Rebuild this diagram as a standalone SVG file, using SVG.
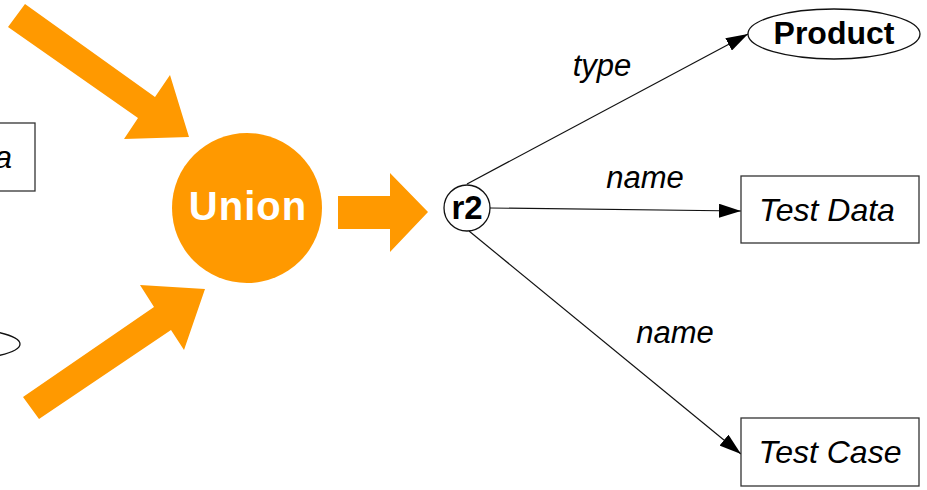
<svg xmlns="http://www.w3.org/2000/svg" width="927" height="490" viewBox="0 0 927 490">
<defs>
<style>
.big{fill:#ff9900;stroke:none}
.box{fill:#fff;stroke:#333;stroke-width:1.3}
.ell{fill:#fff;stroke:#111;stroke-width:1.3}
.edge{fill:none;stroke:#111;stroke-width:1.2;marker-end:url(#ah)}
.lbl{font-family:"Liberation Sans",Arial,sans-serif;font-style:italic;font-size:31px;fill:#000}
.nd{font-size:32px}
.bold{font-family:"Liberation Sans",Arial,sans-serif;font-weight:bold;fill:#000}
</style>
<marker id="ah" viewBox="0 0 22 14" refX="22" refY="7" markerWidth="22" markerHeight="14" markerUnits="userSpaceOnUse" orient="auto">
<path d="M0,0 L22,7 L0,14 Z" fill="#000"/>
</marker>
</defs>
<rect width="927" height="490" fill="#fff"/>
<g id="big-arrows">
<polygon class="big" points="25,4 155,97 170,75 189,137 124,139 138,118 8,27"/>
<polygon class="big" points="23,397 39,419 171,330 184,350 205,289 140,285 154,307"/>
<polygon class="big" points="338,196 390,196 390,173 428,212 390,252 390,229 338,229"/>
</g>
<g id="left-box">
<rect class="box" x="-143" y="123" width="178" height="68"/>
<text class="lbl nd" x="12" y="168" text-anchor="end">a</text>
</g>
<g id="left-ellipse">
<ellipse class="ell" cx="-60" cy="344" rx="80" ry="17"/>
</g>
<g id="union">
<circle cx="247" cy="208" r="75" fill="#ff9900"/>
<text class="bold" x="248" y="220" font-size="40" letter-spacing="1" text-anchor="middle" style="fill:#fff">Union</text>
</g>
<g id="connectors">
<line class="edge" x1="467" y1="184" x2="748" y2="34"/>
<line class="edge" x1="490" y1="208" x2="741" y2="211"/>
<line class="edge" x1="469" y1="231" x2="741" y2="454"/>
<text class="lbl" x="602" y="76" text-anchor="middle">type</text>
<text class="lbl" x="645" y="188" text-anchor="middle">name</text>
<text class="lbl" x="675" y="343" text-anchor="middle">name</text>
</g>
<g id="r2">
<circle class="ell" cx="467" cy="208" r="23"/>
<text class="bold" x="467" y="219" font-size="33" text-anchor="middle">r2</text>
</g>
<g id="product">
<ellipse class="ell" cx="834" cy="34" rx="86" ry="25"/>
<text class="bold" x="834" y="44" font-size="32" text-anchor="middle">Product</text>
</g>
<g id="test-data">
<rect class="box" x="741" y="176" width="178" height="67"/>
<text class="lbl nd" x="827" y="221" text-anchor="middle">Test Data</text>
</g>
<g id="test-case">
<rect class="box" x="741" y="418" width="178" height="68"/>
<text class="lbl nd" x="830" y="463" text-anchor="middle">Test Case</text>
</g>
</svg>
